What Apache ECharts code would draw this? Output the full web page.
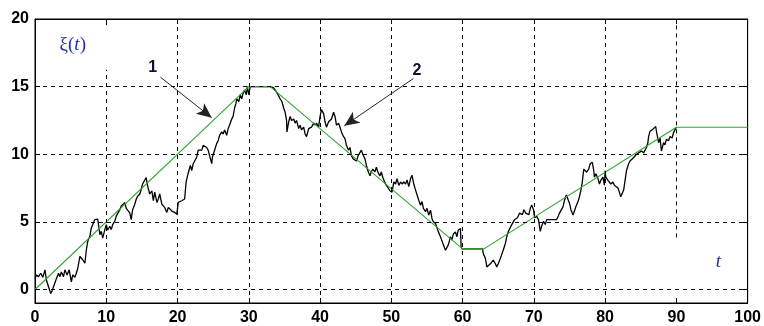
<!DOCTYPE html>
<html><head><meta charset="utf-8">
<script src="https://cdn.jsdelivr.net/npm/echarts@6/dist/echarts.min.js"></script>
<style>html,body{margin:0;padding:0;background:#fff}#c{width:764px;height:326px}</style>
</head><body><div id="c"></div>
<script>
// ---- axis ticks ----
const xTicks = [0, 10, 20, 30, 40, 50, 60, 70, 80, 90, 100];
const yTicks = [0, 5, 10, 15, 20];

// ---- curve 2: noisy observed process xi(t) ----
const signalT = [
 0,0.2,0.5,0.8,1.1,1.4,1.6,1.9,2.2,2.4,2.6,2.8,3.0,3.3,3.5,3.7,4.0,4.2,4.5,4.8,5.1,5.3,5.6,5.8,6.0,6.3,6.5,6.7,7.0,7.2,7.4,7.7,7.9,8.1,8.4,8.6,8.8,9.1,9.3,9.5,9.8,10.0,10.2,10.5,10.7,10.9,11.2,11.4,11.6,11.9,12.1,12.3,12.6,12.8,13.0,13.3,13.5,13.7,14.0,14.2,14.4,14.7,14.9,15.1,15.3,15.6,15.8,
 16.1,16.4,16.6,16.8,17.1,17.3,17.5,17.8,18.0,18.2,18.5,18.7,18.9,19.2,19.4,19.6,19.9,20.1,20.3,20.6,20.8,21.0,21.2,21.4,21.6,21.8,22.0,22.2,22.4,22.7,22.9,23.1,23.4,23.6,23.8,24.1,24.3,24.5,24.8,24.9,25.2,25.5,25.7,25.9,26.2,26.4,26.6,26.9,27.1,27.3,27.6,27.8,28.0,28.2,28.3,28.6,28.8,29.0,29.2,29.4,29.65,29.8,30.0,30.2,33.0,
 33.5,34.0,34.2,34.4,34.65,34.9,35.1,35.3,35.35,35.6,35.8,36.0,36.3,36.5,36.7,37.0,37.2,37.4,37.7,37.9,38.1,38.4,38.6,38.8,39.1,39.3,39.5,39.8,40.0,40.2,40.5,40.7,40.9,41.2,41.4,41.6,41.9,42.1,42.3,42.6,42.8,43.0,43.3,43.5,43.7,44.0,44.2,44.4,44.65,44.9,45.1,45.35,45.6,45.8,46.0,46.3,46.5,46.7,47.0,47.2,47.4,47.7,47.9,48.1,48.4,48.6,48.8,49.1,49.3,49.5,49.8,
 50.1,50.35,50.6,50.8,51.05,51.3,51.5,51.75,52.0,52.2,52.45,52.7,52.9,53.15,53.4,53.6,53.85,54.1,54.3,54.5,54.8,55.0,55.25,55.5,55.7,55.9,56.2,56.4,56.6,56.9,57.1,57.3,57.6,57.8,58.0,58.3,58.5,58.7,59.0,59.2,59.4,59.7,59.8,59.9,62.8,
 62.9,63.2,63.4,63.6,63.9,64.1,64.3,64.6,64.8,65.0,65.3,65.5,65.7,66.0,66.2,66.4,
 66.8,67.05,67.3,67.5,67.7,68.0,68.2,68.4,68.6,68.85,69.1,69.3,69.5,69.7,69.95,70.1,70.4,70.65,70.9,71.1,71.35,71.6,71.8,72.0,72.3,72.5,72.7,72.95,73.2,73.4,73.6,73.8,74.1,74.3,74.55,74.8,75.0,75.2,75.5,75.9,76.2,76.4,76.6,76.8,77.0,77.2,77.4,77.7,77.9,78.2,78.4,78.5,78.7,79.0,79.2,79.4,79.7,79.9,80.0,80.1,80.4,80.6,80.8,81.1,81.3,81.5,81.8,82.0,82.2,82.4,82.6,82.8,83.0,83.3,83.5,83.7,84.0,84.2,84.4,84.7,84.9,85.1,85.4,85.6,85.8,86.0,86.1,86.3,86.6,86.8,87.1,87.2,87.5,87.7,87.9,88.2,88.4,88.6,88.9,89.1,89.4,89.6,89.8,90.0
];
const signalY = [
 0.8,1.07,0.95,1.2,0.9,1.45,0.7,0.2,-0.3,-0.1,0.2,0.5,0.8,1.2,0.95,1.3,0.95,1.45,1.07,1.45,0.57,1.07,0.9,1.2,1.57,2.44,2.56,2.2,1.94,2.9,3.56,3.93,4.55,4.43,5.17,5.05,5.2,4.05,4.3,3.8,4.43,4.8,4.4,4.67,4.43,4.8,5.05,5.42,5.55,5.9,6.17,6.17,6.42,6.0,5.9,5.67,5.17,5.9,6.3,6.67,6.9,7.04,7.41,7.8,7.9,8.28,7.66,
 7.06,7.3,6.56,7.2,6.44,6.69,7.06,6.3,6.44,6.07,5.7,6.07,5.94,5.8,5.94,5.7,5.57,6.44,6.3,6.56,6.44,6.69,7.93,8.4,8.8,9.17,8.8,9.3,9.4,9.8,10.3,10.4,10.3,10.66,10.8,10.5,10.3,9.9,9.3,9.8,10.3,10.8,11.0,11.4,11.65,11.5,11.8,11.4,11.9,12.15,12.6,12.8,13.4,13.76,14.1,13.9,14.4,14.1,14.5,14.75,14.4,15.0,14.4,15.0,15.0,
 14.9,14.5,14.6,14.1,13.9,13.4,13.1,12.5,11.65,12.4,12.8,12.5,12.6,12.3,12.5,11.9,12.15,11.8,12.0,11.5,11.3,11.9,11.8,12.0,12.3,12.15,12.3,12.0,12.8,13.3,13.0,12.4,12.0,12.4,12.3,12.6,13.1,12.8,12.15,12.3,12.0,11.65,11.3,11.15,10.66,10.3,10.5,9.9,9.66,9.8,9.5,9.9,9.8,10.3,10.0,9.66,9.17,8.8,8.4,8.7,8.9,8.7,9.04,8.7,8.4,8.7,8.3,7.9,7.7,7.55,7.3,
 7.2,7.95,7.8,8.2,7.7,7.95,7.8,7.95,7.8,8.1,7.6,8.2,8.45,7.8,7.35,7.46,6.6,6.23,6.5,6.0,5.75,6.0,5.5,5.86,5.25,5.0,4.88,4.75,4.26,3.9,4.0,3.3,2.9,2.8,3.3,3.9,3.65,4.1,4.26,3.9,4.4,4.5,3.15,3.0,3.0,
 2.66,2.3,1.67,1.55,1.9,1.8,2.17,1.9,1.67,1.9,2.3,2.17,2.9,3.4,3.9,4.26,
 4.7,4.8,5.17,5.05,5.3,5.65,5.77,5.53,5.9,5.65,5.77,5.53,6.0,6.25,5.9,5.3,5.4,5.17,4.3,4.7,5.05,4.8,5.17,5.05,5.17,5.05,5.17,5.05,5.17,5.4,5.65,5.77,6.13,6.6,6.98,6.86,6.38,5.9,5.5,6.13,6.5,6.86,7.35,7.95,8.9,9.0,8.67,8.9,9.3,9.4,8.8,8.3,8.55,8.2,7.8,8.07,8.3,7.7,8.8,8.3,8.07,7.95,7.8,7.95,7.7,7.6,7.5,7.2,6.86,6.8,7.35,8.07,8.8,9.3,9.5,9.64,9.76,9.88,10.0,10.1,10.0,10.24,10.1,10.24,10.5,10.85,11.3,11.7,11.8,11.9,12.05,11.7,10.85,11.2,10.24,10.85,10.7,11.1,11.0,11.3,11.2,11.6,11.8,12.0
];

// ---- curve 1: piecewise linear trend ----
const trendT = [0, 30, 33, 60, 63, 90, 100];
const trendY = [0, 15, 15, 3, 3, 12, 12];

// ---- annotations (data space) ----
const annoText = [
  {text: '1', at: [16.5, 16.4]},
  {text: '2', at: [53.6, 16.2]}
];
const annoArrows = [
  {from: [17.6, 15.7], to: [24.8, 12.7]},
  {from: [53.1, 15.6], to: [43.4, 12.1]}
];

const X_MIN = 0, X_MAX = 100, Y_MIN = -1, Y_MAX = 20;

const signal = signalT.map((t, i) => [t, signalY[i]]);
const trend = trendT.map((t, i) => [t, trendY[i]]);

// gridline segments (with the gaps seen in the reference)
const vGaps = {10: [[Y_MIN, 16.25], [19.55, Y_MAX]], 90: [[3.85, Y_MAX]]};
const gridSegs = [];
xTicks.filter(v => v > X_MIN && v < X_MAX).forEach(x => {
  (vGaps[x] || [[Y_MIN, Y_MAX]]).forEach(s => gridSegs.push([{coord: [x, s[0]]}, {coord: [x, s[1]]}]));
});
yTicks.filter(v => v > Y_MIN && v < Y_MAX).forEach(y => {
  gridSegs.push([{coord: [X_MIN, y]}, {coord: [X_MAX, y]}]);
});

const chart = echarts.init(document.getElementById('c'), null, {renderer: 'canvas'});
const labelFont = {fontFamily: 'Liberation Sans', fontWeight: 'bold', fontSize: 16, color: '#000'};
const tickStyle = {show: true, inside: true, length: 5, lineStyle: {color: '#000', width: 1}};

chart.setOption({
  animation: false,
  backgroundColor: '#fff',
  grid: {left: 35, right: 15, top: 19, bottom: 23, show: true, borderColor: '#000', borderWidth: 1, backgroundColor: '#fff'},
  xAxis: [
    {type: 'value', min: X_MIN, max: X_MAX, interval: 10, position: 'bottom',
     axisLine: {show: true, onZero: false, lineStyle: {color: '#000', width: 1}},
     axisTick: tickStyle, splitLine: {show: false},
     axisLabel: Object.assign({margin: 7}, labelFont)},
    {type: 'value', min: X_MIN, max: X_MAX, interval: 10, position: 'top',
     axisLine: {show: true, onZero: false, lineStyle: {color: '#000', width: 1}},
     axisTick: tickStyle, splitLine: {show: false}, axisLabel: {show: false}}
  ],
  yAxis: [
    {type: 'value', min: Y_MIN, max: Y_MAX, position: 'left',
     axisLine: {show: true, onZero: false, lineStyle: {color: '#000', width: 1}},
     axisTick: Object.assign({customValues: yTicks}, tickStyle), splitLine: {show: false},
     axisLabel: Object.assign({customValues: yTicks, margin: 6}, labelFont)},
    {type: 'value', min: Y_MIN, max: Y_MAX, position: 'right',
     axisLine: {show: true, onZero: false, lineStyle: {color: '#000', width: 1}},
     axisTick: Object.assign({customValues: yTicks}, tickStyle), splitLine: {show: false},
     axisLabel: {show: false}}
  ],
  series: [
    {name: 'grid', type: 'line', data: [], z: 1, silent: true,
     markLine: {silent: true, symbol: ['none', 'none'], label: {show: false},
       lineStyle: {color: '#000', type: [4, 4], width: 1}, data: gridSegs}},
    {name: 'signal', type: 'line', data: signal, showSymbol: false, symbol: 'none', z: 3,
     lineStyle: {color: '#000', width: 1.3}},
    {name: 'trend', type: 'line', data: trend, showSymbol: false, symbol: 'none', z: 4,
     lineStyle: {color: '#2ea52e', width: 1.1}},
    {name: 'arrows', type: 'line', data: [], z: 5, silent: true,
     markLine: {silent: true, symbol: ['none', 'arrow'], symbolSize: [10, 15], label: {show: false},
       lineStyle: {color: '#222', type: 'solid', width: 1},
       data: annoArrows.map(a => [{coord: a.from}, {coord: a.to}])}}
  ]
});

function place() {
  const P = p => chart.convertToPixel({gridIndex: 0}, p);
  const xiPos = P([5.3, 18.1]);
  const tPos = P([95.9, 2.0]);
  const g = [
    {type: 'text', x: xiPos[0], y: xiPos[1], z: 100,
     style: {text: '{n|ξ(}{i|t}{n|)}', align: 'center', verticalAlign: 'middle',
       rich: {n: {fontFamily: 'Liberation Serif', fontSize: 19, fill: '#1f3590'},
              i: {fontFamily: 'Liberation Serif', fontStyle: 'italic', fontSize: 19, fill: '#1f3590'}}}},
    {type: 'text', x: tPos[0], y: tPos[1], z: 100,
     style: {text: 't', align: 'center', verticalAlign: 'middle', fontFamily: 'Liberation Serif', fontStyle: 'italic', fontSize: 19, fill: '#1f3590'}}
  ];
  annoText.forEach(a => {
    const p = P(a.at);
    g.push({type: 'text', x: p[0], y: p[1], z: 100,
      style: {text: a.text, align: 'center', verticalAlign: 'middle', fontFamily: 'Liberation Sans', fontWeight: 'bold', fontSize: 16, fill: '#0c1230'}});
  });
  chart.setOption({graphic: g});
}
place();
</script>
</body></html>
